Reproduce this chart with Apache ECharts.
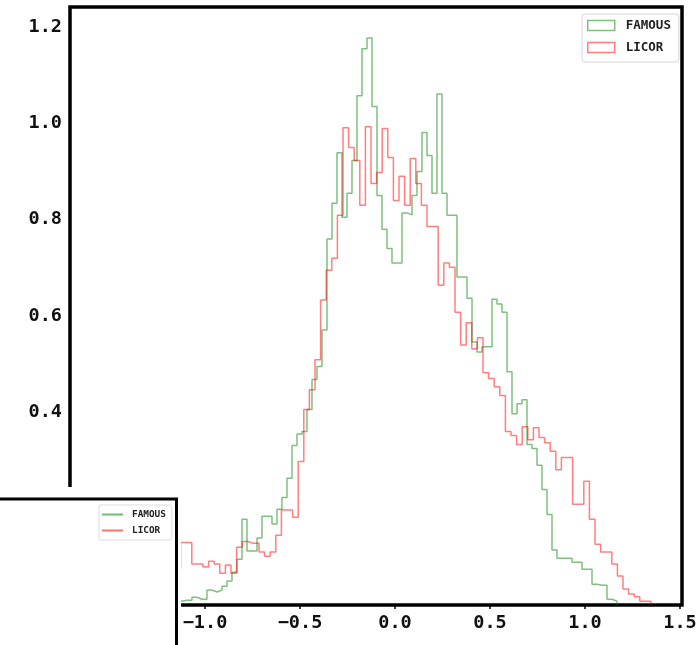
<!DOCTYPE html>
<html>
<head>
<meta charset="utf-8">
<script src="https://cdn.jsdelivr.net/npm/echarts@6/dist/echarts.min.js"></script>
<style>
  html, body { margin: 0; padding: 0; background: #fff; }
  #chart { width: 700px; height: 645px; }
</style>
</head>
<body>
<div id="chart"></div>
<script>
// Two normalised step histograms (density) of the same quantity.
const seriesNames = ['FAMOUS', 'LICOR'];

// FAMOUS: 100 equal-width bins
const famousBinStart = -1.4632;
const famousBinWidth = 0.026316;
const famousDensity = [
  0.004, 0, 0, 0.004, 0, 0.004, 0.008, 0.004, 0.008, 0.004, 0.008, 0.012, 0.008,
  0.010, 0.010, 0.016, 0.012, 0.012, 0.031, 0.027, 0.031, 0.039, 0.050, 0.068, 0.095,
  0.178, 0.112, 0.112, 0.139, 0.184, 0.184, 0.168, 0.199, 0.223, 0.263, 0.331, 0.355,
  0.360, 0.406, 0.468, 0.495, 0.571, 0.760, 0.834, 0.939,
  0.805, 0.855, 0.923, 1.057, 1.155, 1.177, 1.035, 0.850,
  0.780, 0.740, 0.710, 0.710, 0.814, 0.810, 0.850, 0.900,
  0.981, 0.933, 0.855, 1.061, 0.855, 0.809, 0.809, 0.681,
  0.681, 0.637, 0.546, 0.525, 0.536, 0.536, 0.635, 0.625,
  0.608, 0.484, 0.397, 0.418, 0.426, 0.333, 0.325, 0.290,
  0.240, 0.188, 0.114, 0.097, 0.097, 0.097, 0.089, 0.089,
  0.074, 0.074, 0.043, 0.041, 0.041, 0.012, 0.008
];

// LICOR: 100 equal-width bins
const licorBinStart = -1.6;
const licorBinWidth = 0.029474;
const licorDensity = [
  0.008, 0.004, 0.008, 0.012, 0.016, 0.012, 0.020, 0.024, 0.020, 0.030, 0.035, 0.030, 0.045, 0.050, 0.060, 0.075,
  0.130, 0.130, 0.085, 0.085, 0.079, 0.091, 0.085, 0.066, 0.083, 0.066,
  0.120, 0.132, 0.128, 0.128, 0.110, 0.101, 0.110, 0.145, 0.197, 0.197,
  0.182, 0.298, 0.406, 0.447, 0.509, 0.633, 0.695, 0.720, 0.809, 0.991,
  0.950, 0.923, 0.830, 0.993, 0.875, 0.898, 0.989, 0.929, 0.840, 0.890,
  0.830, 0.927, 0.875, 0.830, 0.786, 0.786, 0.664, 0.710, 0.701, 0.608,
  0.540, 0.586, 0.532, 0.555, 0.482, 0.470, 0.453, 0.435, 0.360, 0.352,
  0.333, 0.370, 0.343, 0.368, 0.348, 0.337, 0.319, 0.281, 0.306, 0.306,
  0.209, 0.209, 0.257, 0.178, 0.126, 0.110, 0.110, 0.085, 0.060, 0.033,
  0.023, 0.017, 0.008, 0.008
];

const xTicks = [-1.5, -1.0, -0.5, 0.0, 0.5, 1.0, 1.5];
const yTicks = [0.0, 0.2, 0.4, 0.6, 0.8, 1.0, 1.2];
const xRange = [-1.7105, 1.5105];
const yRange = [0, 1.2415];

const GREEN = 'rgba(0,128,0,0.5)';
const RED = 'rgba(255,0,0,0.5)';
const MONO = "'DejaVu Sans Mono', monospace";

// Outline of a step histogram: rise at the first edge, fall at the last.
function stepOutline(start, width, heights) {
  const pts = [[start, 0]];
  heights.forEach((h, i) => pts.push([start + i * width, h]));
  pts.push([start + heights.length * width, 0]);
  return pts;
}

const fmt = v => v.toFixed(1).replace('-', '\u2212');

const chart = echarts.init(document.getElementById('chart'), null, { renderer: 'canvas' });

chart.setOption({
  animation: false,
  backgroundColor: '#fff',
  grid: {
    left: 70, right: 18, top: 7, bottom: 40,
    show: true, borderColor: '#000', borderWidth: 3.5, backgroundColor: 'transparent'
  },
  xAxis: {
    type: 'value', min: xRange[0], max: xRange[1],
    splitLine: { show: false },
    axisLine: { show: false, onZero: false },
    axisTick: { show: true, length: 4, customValues: xTicks, lineStyle: { color: '#000', width: 1.5 } },
    axisLabel: {
      customValues: xTicks, formatter: fmt, margin: 9,
      fontFamily: MONO, fontWeight: 'bold', fontSize: 18.5, color: '#111'
    }
  },
  yAxis: {
    type: 'value', min: yRange[0], max: yRange[1],
    splitLine: { show: false },
    axisLine: { show: false, onZero: false },
    axisTick: { show: false },
    axisLabel: {
      customValues: yTicks, formatter: fmt, margin: 8,
      fontFamily: MONO, fontWeight: 'bold', fontSize: 18.5, color: '#111'
    }
  },
  legend: [
    {
      // legend inside the main axes (outlined patches)
      left: 582, top: 14, orient: 'vertical',
      padding: [5, 8, 8, 5], itemGap: 9, itemWidth: 27, itemHeight: 10,
      borderColor: '#d6d6d6', borderWidth: 1, borderRadius: 3, backgroundColor: '#fff',
      selectedMode: false,
      textStyle: { fontFamily: MONO, fontWeight: 'bold', fontSize: 12.5, color: '#222', padding: [0, 0, 0, 6] },
      data: [
        { name: seriesNames[0], icon: 'rect', itemStyle: { color: '#fff', borderColor: GREEN, borderWidth: 1.5 } },
        { name: seriesNames[1], icon: 'rect', itemStyle: { color: '#fff', borderColor: RED, borderWidth: 1.5 } }
      ]
    },
    {
      // legend of the small panel in the lower-left corner (line keys)
      left: 99, top: 505, orient: 'vertical', z: 120,
      padding: [5, 6, 5, 3], itemGap: 7, itemWidth: 21, itemHeight: 2,
      borderColor: '#dcdcdc', borderWidth: 1, borderRadius: 2, backgroundColor: '#fff',
      selectedMode: false,
      textStyle: { fontFamily: MONO, fontWeight: 'bold', fontSize: 9.4, color: '#222', padding: [0, 0, 0, 4] },
      data: [
        { name: seriesNames[0], icon: 'rect', itemStyle: { color: 'rgba(0,128,0,0.55)', borderWidth: 0 } },
        { name: seriesNames[1], icon: 'rect', itemStyle: { color: 'rgba(255,0,0,0.55)', borderWidth: 0 } }
      ]
    }
  ],
  graphic: [
    {
      type: 'rect', z: 100, silent: true,
      shape: { x: 0, y: 487, width: 181, height: 158 },
      style: { fill: '#fff' }
    },
    {
      type: 'rect', z: 101, silent: true,
      shape: { x: -10, y: 499, width: 186.5, height: 170 },
      style: { fill: '#fff', stroke: '#000', lineWidth: 3 }
    }
  ],
  series: [
    {
      name: seriesNames[0], type: 'line', step: 'end', symbol: 'none',
      color: GREEN, lineStyle: { color: GREEN, width: 1.5 },
      data: stepOutline(famousBinStart, famousBinWidth, famousDensity)
    },
    {
      name: seriesNames[1], type: 'line', step: 'end', symbol: 'none',
      color: RED, lineStyle: { color: RED, width: 1.5 },
      data: stepOutline(licorBinStart, licorBinWidth, licorDensity)
    }
  ]
});
</script>
</body>
</html>
